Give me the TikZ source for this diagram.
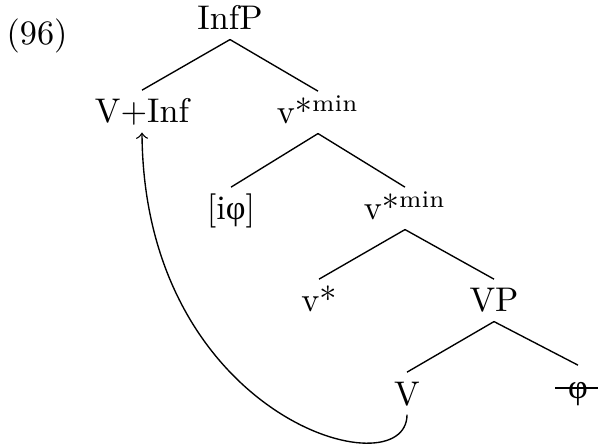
\documentclass[tikz,border=0pt]{standalone}
\usepackage{fontspec}
\newfontfamily\greekfont{Liberation Serif}
\newcommand{\phig}{{\greekfont φ}}
\begin{document}
\begin{tikzpicture}
    [x=0.2924pt,y=-0.2924pt,
     cat/.style={anchor=base,inner sep=2.6pt,text height=6.8pt,text depth=0pt}]
    \useasboundingbox (0,0) rectangle (598,445);
    %example number
    \node[anchor=base] (exnum) at (37,45) {(96)};
    %nodes
    \node[cat] (infp) at (230,30) {InfP};
    \node[cat] (vinf) at (142,123) {V+Inf};
    \node[cat] (vmintop) at (318,124) {v*\textsuperscript{min}};
    \node[cat] (iphi) at (231,220) {[i\phig]};
    \node[cat] (vminlow) at (405,220) {v*\textsuperscript{min}};
    \node[cat] (vstar) at (319,312) {v*};
    \node[cat] (vp) at (494,312) {VP};
    \node[cat] (v) at (407,405) {V};
    \node[cat] (phi) at (578,398) {\phig};
    %branches
    \draw (infp.south) -- (vinf.north);
    \draw (infp.south) -- (vmintop.north);
    \draw (vmintop.south) -- (iphi.north);
    \draw (vmintop.south) -- (vminlow.north);
    \draw (vminlow.south) -- (vstar.north);
    \draw (vminlow.south) -- (vp.north);
    \draw (vp.south) -- (v.north);
    \draw (vp.south) -- (phi.north);
    %deleted copy
    \draw ([xshift=-1pt,yshift=-0.5pt]phi.west) -- ([xshift=1pt,yshift=-0.5pt]phi.east);
    %movement
    \draw[->] (v.south) .. controls (407,491) and (144,420) .. (vinf.south);
\end{tikzpicture}
\end{document}
